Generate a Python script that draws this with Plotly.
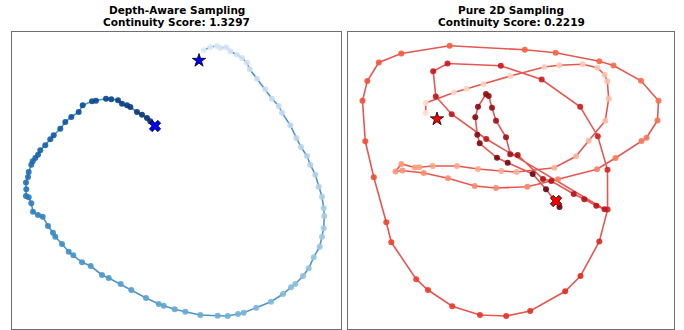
import plotly.graph_objects as go

# ---------------- data (pixel-like units) ----------------
depth_x = [203.7, 210.3, 217, 220.3, 226.3, 230.3, 237, 242, 247, 249.7, 257, 265.3, 272, 278.7, 282,
           290.3, 296.3, 301, 307, 310.3, 315.3,
           318.7, 322, 323.7, 324.3, 323.7, 322, 319.7, 313.7, 308.7, 303, 295.3, 291, 283, 271, 256.3,
           243.7, 238, 227.7, 217.7, 200.3, 185.3,
           174.7, 163.7, 158.7, 146, 131.3, 120.7, 108.7, 102, 90.7, 82, 73.3, 68.7, 62, 55.3, 53, 48,
           42.7, 38, 33, 31.3, 28.7, 26, 26.3, 26,
           28, 28.7, 31.3, 32.7, 35.3, 38, 40.3, 45.3, 50.3, 53.7, 60.3, 65.3, 71.3, 78.7, 82.7, 92, 96,
           106, 111.3, 118, 122, 127, 130.3, 137, 142, 147, 150.3]
depth_y = [50.3, 47, 46, 48, 47.3, 51.3, 54.7, 58, 62.7, 69.3, 78.7, 89.3, 98.7, 106, 112.7,
           125.3, 138, 147, 156, 164.7, 174.7,
           186.7, 196.7, 208.3, 216, 228.3, 236.7, 246.7, 257.3, 268.3, 276, 284, 287.3, 294, 301.7, 307.7,
           312.7, 314, 316, 315.7, 315, 311.7,
           309.3, 305.7, 304, 298, 290, 284, 278, 275, 266, 262.3, 255.3, 251.7, 244, 236.7, 232.7, 226,
           216.7, 215, 211.7, 203.3, 197.3, 196, 189.3, 182.5,
           177, 172, 164.7, 161.3, 158, 154.7, 150.3, 145.3, 139.3, 135.3, 128.7, 122, 117, 112, 105.3, 101.3, 100.7,
           98.7, 99.3, 100.3, 103.7, 105.3, 107, 112, 114.7, 118, 121.3]
depth_start = (199, 60.5)
depth_end = (155, 126)
depth_score = "1.3297"

pure_x = [425.7, 425.7, 454, 466.5, 483.5, 510.5, 544.3, 559.3, 582.7, 597.3, 604.7, 607.3, 608.7, 605.3,
          588.7, 576, 554.3, 516.5, 501.3, 478, 457, 432.7, 419.3, 414.7, 401.3, 395.5, 402.5, 423.7, 448,
          474.7, 496, 527.3, 558, 597, 615.5,
          641.5, 646.5, 657.5, 658.5, 641, 613.5, 599.3, 555.7, 524.8, 449.7, 401.3, 378.8, 367.3, 362.5,
          365.3, 373.8, 386.3, 391.3, 416.2, 428, 452.2, 480, 506.2, 530.2, 565.2, 580.5, 599.3, 607.6,
          607.5, 597.8, 580.2, 541.7, 500.8, 447.5, 433.2, 435.8, 451.7, 486.3,
          604.5, 596.3, 584.3, 573.7, 551.3, 543, 517.7, 510.3,
          506, 496, 492, 488.7, 486, 478, 475.3, 477.3, 479.7,
          497, 507.7, 532.7, 546, 559.5]
pure_y = [113, 103, 92.5, 88.7, 84, 76, 67, 65.3, 64.3, 67.7, 74.7, 81.3, 98.7, 120.7,
          140.7, 156.3, 167.7, 172, 171, 169, 166, 166, 167.3, 167.5, 164, 171.5, 170.5, 173, 178.3,
          186, 188, 186.7, 179.3, 169.3, 158,
          141, 137.8, 120.5, 100.8, 80.8, 65.5, 61.2, 52.7, 49.8, 45.8, 53.5, 62.5, 81, 100.7,
          141.3, 177.3, 222.3, 242.3, 279.2, 290, 306.2, 315, 316, 311, 291.3, 276, 241.5, 209.6,
          169.8, 136.2, 106.8, 79.5, 65.8, 63.5, 71.2, 96.5, 114.2, 139,
          209.3, 205.7, 199.3, 194, 181, 179, 155, 154.3,
          137.3, 120.7, 107.8, 96, 94, 106.7, 117.3, 134.7, 143.3,
          157.8, 162.7, 174, 189.3, 207]
pure_start = (437, 119)
pure_end = (556, 201)
pure_score = "0.2219"

# ColorBrewer sequential scales (as matplotlib's Blues / Reds)
BLUES = [[0, "rgb(247,251,255)"], [0.125, "rgb(222,235,247)"], [0.25, "rgb(198,219,239)"],
         [0.375, "rgb(158,202,225)"], [0.5, "rgb(107,174,214)"], [0.625, "rgb(66,146,198)"],
         [0.75, "rgb(33,113,181)"], [0.875, "rgb(8,81,156)"], [1, "rgb(8,48,107)"]]
REDS = [[0, "rgb(255,245,240)"], [0.125, "rgb(254,224,210)"], [0.25, "rgb(252,187,161)"],
        [0.375, "rgb(252,146,114)"], [0.5, "rgb(251,106,74)"], [0.625, "rgb(239,59,44)"],
        [0.75, "rgb(203,24,29)"], [0.875, "rgb(165,15,21)"], [1, "rgb(103,0,13)"]]

# ---------------- figure ----------------
W, H = 684, 330
L_PANEL = (12, 341)
R_PANEL = (348, 674)
TOP, BOT = 32, 329

fig = go.Figure()


def add_path(xs, ys, start, end, cscale, line_rgba, mark_col, xa, ya):
    n = len(xs)
    cvals = [0.13 + 0.87 * i / (n - 1) for i in range(n)]
    fig.add_trace(go.Scatter(x=xs, y=ys, mode="lines",
                             line=dict(color=line_rgba, width=1.6),
                             xaxis=xa, yaxis=ya, hoverinfo="skip", showlegend=False))
    fig.add_trace(go.Scatter(x=xs, y=ys, mode="markers",
                             marker=dict(size=6, color=cvals, colorscale=cscale, cmin=0, cmax=1,
                                         opacity=0.9, line=dict(width=0)),
                             xaxis=xa, yaxis=ya, showlegend=False))
    fig.add_trace(go.Scatter(x=[start[0]], y=[start[1]], mode="markers",
                             marker=dict(symbol="star", size=10, color=mark_col,
                                         line=dict(color="black", width=0.8)),
                             xaxis=xa, yaxis=ya, showlegend=False))
    fig.add_trace(go.Scatter(x=[end[0]], y=[end[1]], mode="markers",
                             marker=dict(symbol="x", size=10, color=mark_col,
                                         line=dict(color="black", width=0.8)),
                             xaxis=xa, yaxis=ya, showlegend=False))


add_path(depth_x, depth_y, depth_start, depth_end, BLUES, "rgba(49,130,189,0.85)", "#0000ff", "x", "y")
add_path(pure_x, pure_y, pure_start, pure_end, REDS, "rgba(222,45,38,0.8)", "#ff0000", "x2", "y2")

ax_common = dict(showgrid=False, zeroline=False, showticklabels=False, ticks="",
                 showline=True, mirror=True, linecolor="#6e6e6e", linewidth=1)
y_dom = [1 - BOT / H, 1 - TOP / H]
fig.update_layout(
    width=W, height=H, margin=dict(l=0, r=0, t=0, b=0),
    paper_bgcolor="white", plot_bgcolor="white",
    xaxis=dict(domain=[L_PANEL[0] / W, L_PANEL[1] / W], range=list(L_PANEL), **ax_common),
    yaxis=dict(domain=y_dom, range=[BOT, TOP], **ax_common),
    xaxis2=dict(domain=[R_PANEL[0] / W, R_PANEL[1] / W], range=list(R_PANEL), anchor="y2", **ax_common),
    yaxis2=dict(domain=y_dom, range=[BOT, TOP], anchor="x2", **ax_common),
)

titles = [("Depth-Aware Sampling", "Continuity Score: " + depth_score, L_PANEL),
          ("Pure 2D Sampling", "Continuity Score: " + pure_score, R_PANEL)]
for t1, t2, (a, b) in titles:
    cx = (a + b) / 2 / W
    for txt, yp in ((t1, 10), (t2, 22)):
        fig.add_annotation(x=cx, y=1 - yp / H, xref="paper", yref="paper", text="<b>" + txt + "</b>",
                           showarrow=False, xanchor="center", yanchor="middle",
                           font=dict(family="DejaVu Sans", size=10.5, color="black"))

fig.write_html("out.html", config={"displayModeBar": False},
               post_script="document.body.style.margin='0px';")
